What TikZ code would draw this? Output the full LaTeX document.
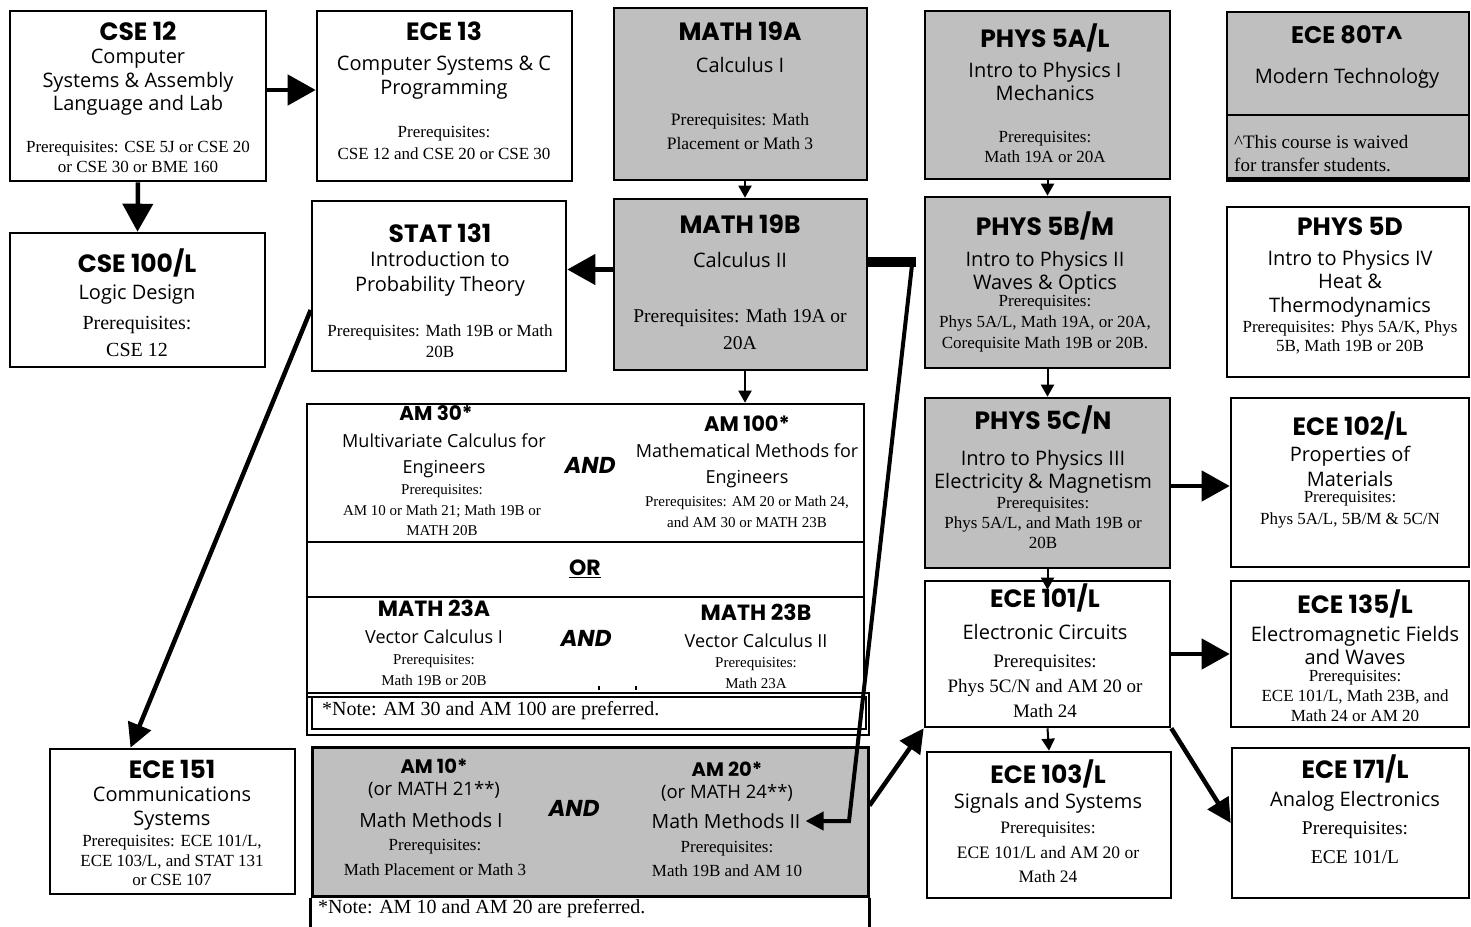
\documentclass[tikz,border=0pt]{standalone}
\usepackage{fontspec}
\setmainfont{Liberation Serif}
\newfontfamily\hdfont{Poppins}
\newfontfamily\ttlfont{Open Sans}
\newfontfamily\pqfont{Liberation Serif}
\usetikzlibrary{arrows.meta,fit,calc}
\definecolor{gr}{HTML}{BFBFBF}
\begin{document}
\begin{tikzpicture}[x=1pt,y=-1pt,
  box/.style={draw, line width=2.6pt, inner sep=0pt},
  gbox/.style={box, fill=gr},
  thinbox/.style={draw, line width=1.5pt, inner sep=0pt},
  hd/.style={font=\hdfont\bfseries\fontsize{#1}{#1}\selectfont, inner sep=0pt},
  hd/.default=25,
  ttl/.style 2 args={font=\ttlfont\fontsize{#1}{#2}\selectfont, align=center, inner sep=0pt},
  pq/.style 2 args={font=\pqfont\fontsize{#1}{#2}\selectfont, align=center, inner sep=0pt},
  notest/.style={font=\pqfont\fontsize{20}{24}\selectfont, anchor=west, inner sep=0pt},
  andst/.style={font=\hdfont\bfseries\itshape\fontsize{23}{23}\selectfont, inner sep=0pt},
  big/.style={line width=4.5pt, -{Triangle[length=28pt,width=30pt]}},
  med/.style={line width=4.5pt, -{Triangle[length=24pt,width=24pt]}},
  sml/.style={line width=2pt, -{Triangle[length=12pt,width=13pt]}},
  amarr/.style={line width=4pt, -{Triangle[length=18pt,width=18pt]}},
]
\useasboundingbox (0,0) rectangle (1471,926);
\fill[white] (0,0) rectangle (1471,926);

% ---------- boxes ----------
\node[box,  fit={(10,11) (266,181)}] (cse12) {};
\node[box,  fit={(317,11) (572,181)}] (ece13) {};
\node[gbox, fit={(614,8) (867,180)}] (ma) {};
\node[gbox, fit={(925,11) (1170,179)}] (p5a) {};
\node[gbox, fit={(1227,12) (1469,178)}] (e80) {};
\draw[line width=2pt] (e80.west |- 0,115) -- (e80.east |- 0,115);
\draw[line width=5pt] (e80.south west) -- (e80.south east);
\node[box,  fit={(10,233) (265,367)}] (cse100) {};
\node[box,  fit={(312,201) (566,371)}] (stat) {};
\node[gbox, fit={(614,199) (867,370)}] (mb) {};
\node[gbox, fit={(925,197) (1170,368)}] (p5b) {};
\node[box,  fit={(1227,207) (1469,377)}] (p5d) {};

\node[thinbox, fit={(307,693) (869,735)}] (amnoteo) {};
\node[box,  fit={(307,404) (864,697)}] (amblk) {};
\node[thinbox, fit={(312,697) (866,729)}] (amnote) {};
\draw[line width=2.6pt] (amblk.west |- 0,542) -- (amblk.east |- 0,542);
\draw[line width=2.6pt] (amblk.west |- 0,597) -- (amblk.east |- 0,597);
\fill (598,686) rectangle (600,690);
\fill (635,686) rectangle (637,690);

\node[gbox, fit={(925,398) (1170,568)}] (p5c) {};
\node[box,  fit={(1231,398) (1469,567)}] (e102) {};
\node[box,  fit={(925,581) (1170,727)}] (e101) {};
\node[box,  fit={(1231,581) (1469,727)}] (e135) {};
\node[box,  fit={(927,752) (1171,898)}] (e103) {};
\node[box,  fit={(1232,748) (1469,898)}] (e171) {};
\node[box,  fit={(50,749) (295,894)}] (e151) {};
\node[gbox, line width=3pt, fit={(312,747) (868,896)}] (am10) {};
\draw[line width=2.6pt] (am10.south west) -- ++(0,40);
\draw[line width=2.6pt] (am10.south east) -- ++(0,40);

% ---------- texts ----------
\node[hd] (cse12h) at (138,31) {CSE 12};
\node[ttl={20}{23.5}] (cse12t) at (138,82.5) {Computer\\Systems \& Assembly\\Language and Lab};
\node[pq={17}{20}] (cse12p) at (138,157) {Prerequisites: CSE 5J or CSE 20\\or CSE 30 or BME 160};

\node[hd] (ece13h) at (444,31) {ECE 13};
\node[ttl={20}{24}] (ece13t) at (444,78) {Computer Systems \& C\\Programming};
\node[pq={17}{22}] (ece13p) at (444,143) {Prerequisites:\\CSE 12 and CSE 20 or CSE 30};

\node[hd] (mah) at (740,31) {MATH 19A};
\node[ttl={20}{24}] (mat) at (740,65) {Calculus I};
\node[pq={17.5}{24}] (map) at (740,132) {Prerequisites: Math\\Placement or Math 3};

\node[hd] (p5ah) at (1045,38) {PHYS 5A/L};
\node[ttl={20}{23}] (p5at) at (1045,81.5) {Intro to Physics I\\Mechanics};
\node[pq={17}{20}] (p5ap) at (1045,147) {Prerequisites:\\Math 19A or 20A};

\node[hd=24] (e80h) at (1347,35) {ECE 80T\textasciicircum};
\node[ttl={20}{24}] (e80t) at (1347,78) {Modern Technolo\rlap{\raisebox{5pt}{\fontsize{12}{12}\selectfont\kern1pt\textasciicircum}}gy};
\node[font=\pqfont\fontsize{19}{23}\selectfont, anchor=west, align=left, inner sep=0pt] (e80n) at (1234,153.5) {\textasciicircum This course is waived\\for transfer students.};

\node[hd] (cse100h) at (137,263) {CSE 100/L};
\node[ttl={20}{24}] (cse100t) at (137,295) {Logic Design};
\node[pq={20}{27}] (cse100p) at (137,336.5) {Prerequisites:\\CSE 12};

\node[hd] (stath) at (440,233) {STAT 131};
\node[ttl={20}{25}] (statt) at (440,273.5) {Introduction to\\Probability Theory};
\node[pq={17}{21}] (statp) at (440,341.5) {Prerequisites: Math 19B or Math\\20B};

\node[hd] (mbh) at (740,224) {MATH 19B};
\node[ttl={20}{24}] (mbt) at (740,260) {Calculus II};
\node[pq={19.5}{27}] (mbp) at (740,329.5) {Prerequisites: Math 19A or\\20A};

\node[hd] (p5bh) at (1045,226) {PHYS 5B/M};
\node[ttl={20}{23}] (p5bt) at (1045,272.5) {Intro to Physics II\\Waves \& Optics};
\node[pq={17}{21}] (p5bp) at (1045,324) {Prerequisites:\\Phys 5A/L, Math 19A, or 20A,\\Corequisite Math 19B or 20B.};

\node[hd] (p5dh) at (1350,226) {PHYS 5D};
\node[ttl={20}{23.5}] (p5dt) at (1350,283.5) {Intro to Physics IV\\Heat \&\\Thermodynamics};
\node[pq={17}{19.5}] (p5dp) at (1350,337.5) {Prerequisites: Phys 5A/K, Phys\\5B, Math 19B or 20B};

% AM block
\node[hd=20] (am30h) at (436,413) {AM 30*};
\node[ttl={18}{26}] (am30t) at (444,456) {Multivariate Calculus for\\Engineers};
\node[pq={15}{20.5}] (am30p) at (442,510.5) {Prerequisites:\\AM 10 or Math 21; Math 19B or\\MATH 20B};
\node[andst] (and1) at (590,465) {AND};
\node[hd=21] (am100h) at (747,424) {AM 100*};
\node[ttl={18}{26}] (am100t) at (747,466) {Mathematical Methods for\\Engineers};
\node[pq={15}{21}] (am100p) at (747,511.5) {Prerequisites: AM 20 or Math 24,\\and AM 30 or MATH 23B};
\node[hd=22] (orn) at (585,569) {\underline{OR}};
\node[hd=22] (m23ah) at (434,608) {MATH 23A};
\node[ttl={18}{24}] (m23at) at (434,637) {Vector Calculus I};
\node[pq={15}{21}] (m23ap) at (434,670.5) {Prerequisites:\\Math 19B or 20B};
\node[andst] (and2) at (586,638) {AND};
\node[hd=22] (m23bh) at (756,612) {MATH 23B};
\node[ttl={18}{24}] (m23bt) at (756,641) {Vector Calculus II};
\node[pq={15}{21}] (m23bp) at (756,673.5) {Prerequisites:\\Math 23A};
\node[notest] (amnotet) at (322,711) {*Note: AM 30 and AM 100 are preferred.};

% AM 10 block
\node[hd=19.5] (am10h) at (434,766) {AM 10*};
\node[ttl={18.5}{22}] (am10o) at (434,790) {(or MATH 21**)};
\node[ttl={19.5}{22}] (am10t) at (431,820) {Math Methods I};
\node[pq={17}{25}] (am10p) at (435,857.5) {Prerequisites:\\Math Placement or Math 3};
\node[andst] (and3) at (574,808) {AND};
\node[hd=19.5] (am20h) at (727,769) {AM 20*};
\node[ttl={18.5}{22}] (am20o) at (727,793) {(or MATH 24**)};
\node[ttl={19.5}{22}] (am20t) at (726,821) {Math Methods II};
\node[pq={17}{24}] (am20p) at (727,859) {Prerequisites:\\Math 19B and AM 10};
\node[notest] (am10notet) at (318,909) {*Note: AM 10 and AM 20 are preferred.};

\node[hd] (e151h) at (172,769) {ECE 151};
\node[ttl={20}{24}] (e151t) at (172,809) {Communications\\Systems};
\node[pq={17}{19.5}] (e151p) at (172,860.5) {Prerequisites: ECE 101/L,\\ECE 103/L, and STAT 131\\or CSE 107};

\node[hd] (p5ch) at (1043,420) {PHYS 5C/N};
\node[ttl={20}{23}] (p5ct) at (1043,471.5) {Intro to Physics III\\Electricity \& Magnetism};
\node[pq={17}{20}] (p5cp) at (1043,523) {Prerequisites:\\Phys 5A/L, and Math 19B or\\20B};

\node[hd] (e102h) at (1350,426) {ECE 102/L};
\node[ttl={20}{25}] (e102t) at (1350,466.5) {Properties of\\Materials};
\node[pq={17}{22}] (e102p) at (1350,510) {Prerequisites:\\Phys 5A/L, 5B/M \& 5C/N};

\node[hd] (e101h) at (1045,598) {ECE 101/L};
\node[ttl={20}{24}] (e101t) at (1045,632) {Electronic Circuits};
\node[pq={19}{25}] (e101p) at (1045,686) {Prerequisites:\\Phys 5C/N and AM 20 or\\Math 24};

\node[hd] (e135h) at (1355,604) {ECE 135/L};
\node[ttl={20}{23}] (e135t) at (1355,645.5) {Electromagnetic Fields\\and Waves};
\node[pq={17}{20}] (e135p) at (1355,696) {Prerequisites:\\ECE 101/L, Math 23B, and\\Math 24 or AM 20};

\node[hd] (e103h) at (1048,774) {ECE 103/L};
\node[ttl={20}{24}] (e103t) at (1048,803) {Signals and Systems};
\node[pq={17.5}{24.5}] (e103p) at (1048,852.5) {Prerequisites:\\ECE 101/L and AM 20 or\\Math 24};

\node[hd] (e171h) at (1355,769) {ECE 171/L};
\node[ttl={20}{24}] (e171t) at (1355,801) {Analog Electronics};
\node[pq={19.5}{29}] (e171p) at (1355,842.5) {Prerequisites:\\ECE 101/L};

% ---------- connectors ----------
\draw[big] ([yshift=6pt]cse12.east) -- ([yshift=6pt]ece13.west);
\draw[big] (cse12.south) -- (cse100.north);
\draw[big] ([yshift=15pt]mb.west) -- ([yshift=16.5pt]stat.east);
\draw[sml] ([xshift=4.5pt]ma.south) -- ([xshift=4.5pt]mb.north);
\draw[sml] ([xshift=4.5pt]mb.south) -- (745,0 |- amblk.north);
\draw[sml] (p5a.south) -- (p5b.north);
\draw[sml] (p5b.south) -- (p5c.north);
\draw[sml] (p5c.south) -- ([yshift=-10pt]e101.north);
\draw[big] ([yshift=-3pt]p5c.east) -- ([yshift=-3.5pt]e102.west);
\draw[big] (e101.east) -- (e135.west);
\draw[sml] (e101.south) -- (e103.north);
\draw[med] (e101.south east) -- (e171.west);
\draw[med] ([yshift=16pt]am10.east) -- (e101.south west);
\draw[med] ([yshift=-24pt]stat.west) -- ([xshift=-42pt]e151.north);
\coordinate (k1) at (916,262);
\coordinate (k2) at (912,265);
\draw[line width=10pt] ([yshift=22.5pt]mb.east) -- (k1);
\draw[amarr, line join=miter] (k2) -- (849,0 |- am20t.east) -- ([xshift=5pt]am20t.east);
\end{tikzpicture}
\end{document}
